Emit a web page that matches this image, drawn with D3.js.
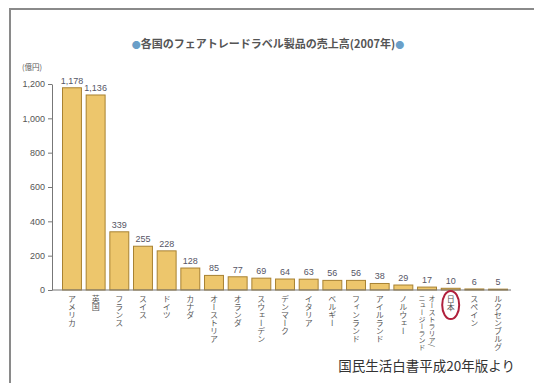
<!DOCTYPE html>
<html>
<head>
<meta charset="utf-8">
<script src="https://cdn.jsdelivr.net/npm/d3@7"></script>
<style>
  body { margin: 0; background: #fff; }
  svg { display: block; font-family: "Noto Sans CJK JP", sans-serif; }
</style>
</head>
<body>
<div id="chart"></div>
<script>
const countries = ["アメリカ", "英国", "フランス", "スイス", "ドイツ", "カナダ", "オーストリア", "オランダ",
    "スウェーデン", "デンマーク", "イタリア", "ベルギー", "フィンランド", "アイルランド", "ノルウェー",
    "オーストラリア/ニュージーランド", "日本", "スペイン", "ルクセンブルグ"];
const sales = [1178, 1136, 339, 255, 228, 128, 85, 77, 69, 64, 63, 56, 56, 38, 29, 17, 10, 6, 5];
const yTicks = [0, 200, 400, 600, 800, 1000, 1200];

const width = 534;
const height = 383;

const svg = d3.select("#chart")
    .append("svg")
    .attr("width", width)
    .attr("height", height);

// frame
svg.append("path")
    .attr("d", `M${width},9 H10 V${height}`)
    .attr("fill", "none")
    .attr("stroke", "#8a8a8a")
    .attr("stroke-width", 2);

// title
const title = svg.append("text")
    .attr("x", 268)
    .attr("y", 48)
    .attr("text-anchor", "middle")
    .attr("font-size", "11px")
    .attr("font-weight", "bold")
    .attr("fill", "#555");
title.append("tspan").attr("fill", "#6a9fc8").attr("font-size", "9px").text("●");
title.append("tspan").text("各国のフェアトレードラベル製品の売上高(2007年)");
title.append("tspan").attr("fill", "#6a9fc8").attr("font-size", "9px").text("●");

const xScale = d3.scaleBand()
    .domain(countries)
    .range([62.5, 507.5])
    .paddingInner(0.2)
    .paddingOuter(0);

const yScale = d3.scaleLinear()
    .domain([0, 1200])
    .range([290, 84]);

// y axis
const yAxisGroup = svg.append("g")
    .attr("transform", "translate(52, 0)")
    .call(d3.axisLeft(yScale).tickValues(yTicks).tickSize(4).tickSizeOuter(0)
        .tickFormat(d3.format(",")));
yAxisGroup.select(".domain").attr("stroke", "#777");
yAxisGroup.selectAll("line").attr("stroke", "#777");
yAxisGroup.selectAll("text")
    .attr("fill", "#555")
    .attr("font-size", "9px")
    .attr("font-family", "Arial, sans-serif");

svg.append("text")
    .attr("x", 22)
    .attr("y", 70)
    .attr("font-size", "7.5px")
    .attr("fill", "#555")
    .text("(億円)");

// bars
svg.selectAll("rect.bar")
    .data(sales)
    .enter()
    .append("rect")
    .attr("class", "bar")
    .attr("x", (d, i) => xScale(countries[i]))
    .attr("y", d => yScale(d))
    .attr("width", xScale.bandwidth())
    .attr("height", d => yScale(0) - yScale(d))
    .attr("fill", "#edc66c")
    .attr("stroke", "#a88232")
    .attr("stroke-width", 1);

// baseline
svg.append("line")
    .attr("x1", 52)
    .attr("x2", 511)
    .attr("y1", yScale(0))
    .attr("y2", yScale(0))
    .attr("stroke", "#777")
    .attr("stroke-width", 1);

// value labels
svg.selectAll("text.value")
    .data(sales)
    .enter()
    .append("text")
    .attr("class", "value")
    .attr("x", (d, i) => xScale(countries[i]) + xScale.bandwidth() / 2)
    .attr("y", d => yScale(d) - 4)
    .attr("text-anchor", "middle")
    .attr("font-size", "9px")
    .attr("font-family", "Arial, sans-serif")
    .attr("fill", "#556")
    .text(d => d3.format(",")(d));

// category labels (vertical)
countries.forEach((name, i) => {
    const cx = xScale(name) + xScale.bandwidth() / 2;
    const lines = name.split("/");
    if (lines.length > 1) lines[0] = lines[0] + "/";
    lines.forEach((line, j) => {
        const offset = (lines.length - 1) * 5 - j * 10;
        svg.append("text")
            .attr("class", "cat")
            .attr("x", cx + offset)
            .attr("y", 295)
            .attr("font-size", lines.length > 1 ? "7px" : "8px")
            .attr("fill", "#555")
            .style("writing-mode", "vertical-rl")
            .text(line);
    });
});

// circle around Japan
svg.append("ellipse")
    .attr("cx", xScale("日本") + xScale.bandwidth() / 2)
    .attr("cy", 305)
    .attr("rx", 8.5)
    .attr("ry", 14)
    .attr("fill", "none")
    .attr("stroke", "#b0203c")
    .attr("stroke-width", 2);

// source
svg.append("text")
    .attr("x", 515)
    .attr("y", 371)
    .attr("text-anchor", "end")
    .attr("font-size", "13.5px")
    .attr("fill", "#333")
    .text("国民生活白書平成20年版より");
</script>
</body>
</html>
